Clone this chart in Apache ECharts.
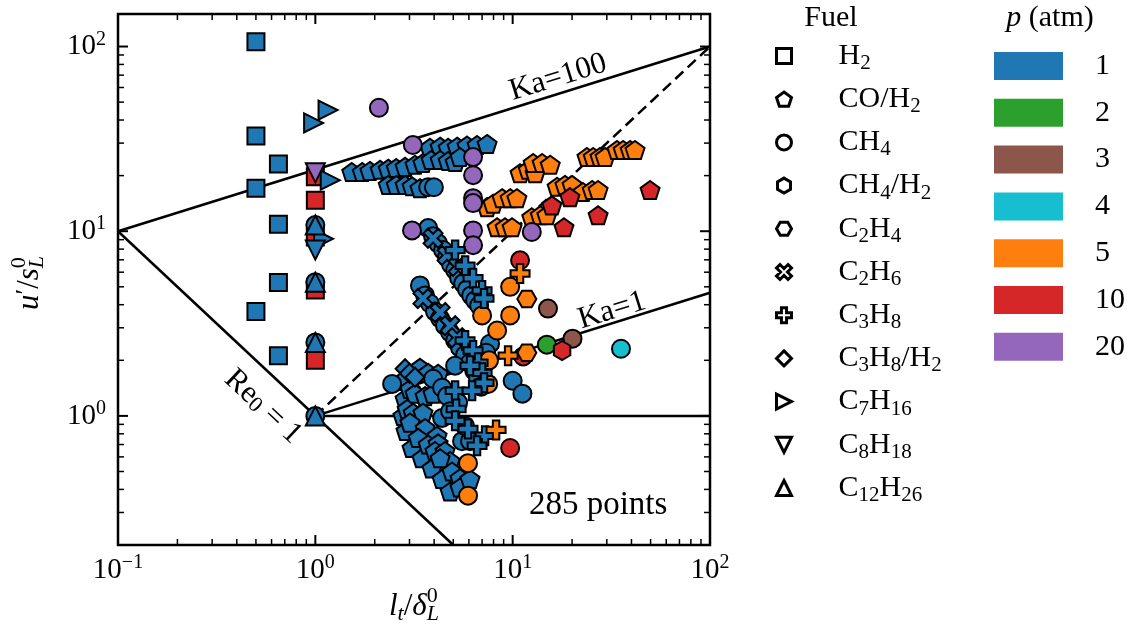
<!DOCTYPE html>
<html>
<head>
<meta charset="utf-8">
<title>Regime diagram</title>
<script src="https://cdn.jsdelivr.net/npm/echarts@6/dist/echarts.min.js"></script>
<style>
  html, body { margin: 0; padding: 0; background: #fff; }
  #chart { width: 1127px; height: 630px; }
</style>
</head>
<body>
<div id="chart"></div>
<script>
// each point: [l_t / delta_L0, u' / s_L0, p (atm)]
const H2 = [
  [0.5, 106, 1], [0.5, 32.8, 1], [0.5, 17.1, 1], [0.5, 3.67, 1],
  [0.65, 23.1, 1], [0.65, 10.9, 1], [0.65, 5.28, 1], [0.65, 2.12, 1],
  [1, 19.7, 10], [1, 14.7, 10], [1, 9.3, 10], [1, 4.8, 10], [1, 2.0, 10]
];
const COH2 = [
  // p = 1, upper band
  [3.81, 28.3, 1], [4.29, 28.7, 1], [4.71, 28.3, 1], [5.23, 28.7, 1], [5.87, 29.1, 1], [6.6, 29.3, 1], [7.42, 29.7, 1],
  [1.53, 20.9, 1], [1.73, 20.9, 1], [1.89, 21.2, 1], [2.13, 21.5, 1], [2.34, 21.8, 1], [2.57, 22.0, 1], [2.85, 22.3, 1],
  [3.2, 22.9, 1], [3.51, 23.4, 1], [3.86, 24.3, 1], [4.29, 24.3, 1], [4.71, 24.0, 1], [5.11, 23.7, 1], [5.41, 25.2, 1],
  [2.34, 17.8, 1], [2.57, 17.8, 1], [2.85, 17.8, 1], [3.09, 17.5, 1], [3.39, 17.1, 1],
  // p = 1, low cluster
  [2.78, 1.55, 1], [2.85, 1.24, 1], [2.78, 1.0, 1], [2.88, 0.83, 1], [3.09, 0.67, 1], [3.47, 0.59, 1], [3.9, 0.52, 1],
  [4.39, 0.455, 1], [4.82, 0.39, 1], [3.39, 1.82, 1], [3.73, 1.71, 1], [4.19, 1.69, 1], [3.02, 1.40, 1], [3.2, 1.32, 1],
  [3.6, 1.28, 1], [3.95, 1.32, 1], [2.92, 1.09, 1], [3.13, 1.04, 1], [3.51, 1.04, 1], [3.02, 0.92, 1], [3.6, 0.86, 1],
  [4.14, 0.78, 1], [3.32, 0.76, 1], [3.73, 0.70, 1], [4.19, 0.71, 1], [4.04, 0.645, 1], [4.54, 0.645, 1], [4.82, 0.57, 1],
  [4.29, 0.59, 1], [4.93, 0.50, 1], [5.41, 0.46, 1], [5.41, 0.41, 1], [6.08, 0.455, 1],
  // p = 5
  [23.8, 25.2, 5], [25.6, 25.2, 5], [27.7, 25.2, 5], [29.4, 25.2, 5], [33.8, 27.5, 5], [36.3, 27.5, 5], [39.4, 27.5, 5], [41.7, 27.5, 5],
  [10.9, 20.6, 5], [12.0, 21.5, 5], [13.0, 20.6, 5], [12.7, 23.4, 5], [14.1, 23.4, 5], [15.5, 22.9, 5],
  [16.8, 17.4, 5], [18.4, 17.8, 5], [20.0, 17.8, 5], [22.7, 16.3, 5], [25.3, 16.7, 5], [27.1, 16.7, 5],
  [7.42, 13.5, 5], [7.96, 14.1, 5], [8.84, 15.1, 5], [9.71, 15.1, 5], [10.5, 15.1, 5],
  [8.34, 10.5, 5], [9.15, 10.5, 5], [9.93, 10.5, 5], [12.5, 11.9, 5], [13.8, 12.2, 5], [14.9, 12.2, 5],
  // p = 10
  [49.7, 16.7, 10], [19.5, 15.3, 10], [15.8, 13.8, 10], [27.1, 12.2, 10], [18.2, 10.5, 10]
];
const CH4 = [
  [1, 10.8, 1], [1, 5.3, 1], [1, 2.5, 1], [1, 1.0, 1], [3.73, 17.3, 1], [3.99, 17.3, 1],
  [3.73, 10.4, 1], [3.95, 9.4, 1], [4.19, 8.6, 1], [4.44, 7.9, 1], [4.65, 7.2, 1], [4.87, 6.6, 1], [5.11, 6.15, 1],
  [5.35, 5.6, 1], [5.61, 5.22, 1], [5.87, 4.84, 1], [6.16, 4.49, 1], [6.45, 4.22, 1], [6.76, 3.96, 1],
  [3.39, 5.09, 1], [3.6, 4.49, 1], [3.81, 4.06, 1], [4.04, 3.67, 1], [4.29, 3.37, 1], [4.54, 3.08, 1], [4.82, 2.83, 1],
  [5.11, 2.56, 1], [5.41, 2.34, 1], [5.74, 2.14, 1], [6.08, 1.94, 1], [6.38, 1.76, 1], [6.68, 1.59, 1], [6.92, 1.44, 1],
  [7.68, 2.46, 1], [7.33, 2.2, 1],
  [2.45, 1.49, 1], [3.95, 1.59, 1], [4.39, 1.42, 1], [5.11, 1.87, 1], [5.29, 1.18, 1], [4.39, 0.975, 1], [5.54, 0.73, 1],
  [4.65, 1.28, 1], [4.82, 1.06, 1], [5.74, 0.88, 1], [6.08, 0.73, 1], [10.0, 1.55, 1], [11.2, 1.32, 1],
  [2.1, 46.6, 20], [3.12, 29.3, 20], [6.3, 25.2, 20], [6.3, 20.1, 20], [6.3, 15.1, 20], [6.3, 14.2, 20],
  [6.3, 10.1, 20], [6.3, 8.4, 20], [3.09, 10.1, 20], [12.5, 9.9, 20],
  [9.71, 5.0, 5], [9.71, 3.5, 5], [7.0, 3.5, 5], [8.34, 2.9, 5], [7.59, 2.0, 5], [7.51, 1.49, 5], [5.94, 0.555, 5], [5.94, 0.37, 5],
  [10.9, 6.96, 10], [9.71, 0.67, 10], [11.3, 2.1, 10],
  [15.1, 3.81, 3], [20.1, 2.62, 3], [14.9, 2.43, 2], [35.4, 2.31, 4]
];
const CH4H2 = [[17.8, 2.26, 10]];
const C2H4 = [[11.8, 4.3, 5], [11.8, 2.2, 5]];
const C2H6 = [
  [3.95, 9.16, 1], [4.65, 7.4, 1], [5.29, 6.45, 1],
  [3.51, 4.32, 1], [4.29, 3.63, 1], [4.82, 3.08, 1], [5.23, 2.65, 1]
];
const C3H8 = [
  [5.11, 7.9, 1], [5.74, 6.5, 1], [6.3, 5.56, 1], [7.0, 4.78, 1], [7.16, 4.32, 1],
  [5.74, 2.56, 1], [6.3, 2.26, 1], [6.68, 1.94, 1], [7.0, 1.71, 1], [7.16, 1.51, 1],
  [6.08, 1.87, 1], [5.11, 1.37, 1], [6.23, 1.37, 1], [5.17, 1.09, 1], [5.11, 0.94, 1], [5.94, 0.85, 1],
  [7.25, 0.78, 1], [6.6, 0.69, 1],
  [10.9, 5.91, 5], [9.48, 2.12, 5], [8.24, 0.84, 5]
];
const C3H8H2 = [[2.85, 1.8, 1], [3.0, 1.7, 1], [3.2, 1.62, 1]];
const C7H16 = [[0.98, 38.6, 1], [1.16, 45.3, 1], [1.19, 18.9, 1], [1.1, 9.1, 1]];
const C8H18 = [[1, 7.9, 1], [1, 20.7, 20]];
const C12H26 = [[1, 10.8, 1], [1, 5.3, 1], [1, 2.5, 1], [1, 1.0, 1]];

const pressures = [1, 2, 3, 4, 5, 10, 20];
const pressureColors = ['#1f77b4', '#2ca02c', '#8c564b', '#17becf', '#ff7f0e', '#d62728', '#9467bd'];

// regime boundaries
const ka100Line = [[0.1, 10], [100, 100]];
const ka1Line = [[1, 1], [100, 4.64]];
const re1Line = [[0.1, 10], [5, 0.2]];
const unityLine = [[1, 1], [100, 1]];
const diagLine = [[1, 1], [100, 100]];

const X_MIN = 0.1, X_MAX = 100, Y_MIN = 0.2, Y_MAX = 150;
const SERIF = '"Liberation Serif", "Times New Roman", serif';

const SYM = {
  square: 'rect',
  pentagon: 'path://M50,0 L97.55,34.55 L79.39,90.45 L20.61,90.45 L2.45,34.55 Z',
  hexV: 'path://M50,0 L93.3,25 L93.3,75 L50,100 L6.7,75 L6.7,25 Z',
  hexH: 'path://M0,50 L25,6.7 L75,6.7 L100,50 L75,93.3 L25,93.3 Z',
  cross: 'path://M74.75,4.04 L95.96,25.25 L71.21,50 L95.96,74.75 L74.75,95.96 L50,71.21 L25.25,95.96 L4.04,74.75 L28.79,50 L4.04,25.25 L25.25,4.04 L50,28.79 Z',
  plus: 'path://M33,0 H67 V33 H100 V67 H67 V100 H33 V67 H0 V33 H33 Z',
  triR: 'path://M0,0 L100,50 L0,100 Z',
  triD: 'path://M0,0 L100,0 L50,100 Z',
  triU: 'path://M50,0 L100,100 L0,100 Z'
};

const fuels = [
  { name: 'H2', label: '{gap| }{n|H}{s|2}', data: H2, symbol: SYM.square, size: 17 },
  { name: 'CO/H2', label: '{gap| }{n|CO/H}{s|2}', data: COH2, symbol: SYM.pentagon, size: 19 },
  { name: 'CH4', label: '{gap| }{n|CH}{s|4}', data: CH4, symbol: 'circle', size: 18 },
  { name: 'CH4/H2', label: '{gap| }{n|CH}{s|4}{n|/H}{s|2}', data: CH4H2, symbol: SYM.hexV, size: 19 },
  { name: 'C2H4', label: '{gap| }{n|C}{s|2}{n|H}{s|4}', data: C2H4, symbol: SYM.hexH, size: 19 },
  { name: 'C2H6', label: '{gap| }{n|C}{s|2}{n|H}{s|6}', data: C2H6, symbol: SYM.cross, size: 19 },
  { name: 'C3H8', label: '{gap| }{n|C}{s|3}{n|H}{s|8}', data: C3H8, symbol: SYM.plus, size: 19 },
  { name: 'C3H8/H2', label: '{gap| }{n|C}{s|3}{n|H}{s|8}{n|/H}{s|2}', data: C3H8H2, symbol: 'diamond', size: 19 },
  { name: 'C7H16', label: '{gap| }{n|C}{s|7}{n|H}{s|16}', data: C7H16, symbol: SYM.triR, size: 19 },
  { name: 'C8H18', label: '{gap| }{n|C}{s|8}{n|H}{s|18}', data: C8H18, symbol: SYM.triD, size: 19 },
  { name: 'C12H26', label: '{gap| }{n|C}{s|12}{n|H}{s|26}', data: C12H26, symbol: SYM.triU, size: 19 }
];

function colorOf(p) {
  return pressureColors[pressures.indexOf(p)];
}

// ticks drawn inside on all four sides
const xTicks = [], yTicks = [];
for (let d = -1; d <= 2; d++) {
  for (let k = 1; k <= 9; k++) {
    const v = k * Math.pow(10, d);
    const len = k === 1 ? 10 : 6;
    if (v >= X_MIN && v <= X_MAX) xTicks.push([v, 1, len]);
    if (v >= Y_MIN && v <= Y_MAX) yTicks.push([1, v, len]);
  }
}

function tickLabel(v) {
  const l = Math.log10(v);
  const e = Math.round(l);
  if (Math.abs(l - e) > 1e-6) return '';
  return '{b|10}{e|' + (e < 0 ? '\u2212' + (-e) : e) + '}';
}
const tickRich = {
  b: { fontFamily: SERIF, fontSize: 29, lineHeight: 34, color: '#000' },
  e: { fontFamily: SERIF, fontSize: 20, lineHeight: 16, verticalAlign: 'top', color: '#000' }
};

const chart = echarts.init(document.getElementById('chart'));

function guide(data, dashed) {
  return {
    type: 'line', data: data, symbol: 'none', silent: true, z: 1,
    lineStyle: { color: '#000', width: 2.5, type: dashed ? [11, 6] : 'solid' }
  };
}

const series = [
  guide(ka100Line), guide(ka1Line), guide(re1Line), guide(unityLine), guide(diagLine, true)
];
fuels.forEach(function (f) {
  series.push({
    type: 'scatter', name: f.name, symbol: f.symbol, symbolSize: f.size, symbolKeepAspect: true,
    silent: true, z: 3,
    itemStyle: { borderColor: '#000', borderWidth: 2, opacity: 1 },
    data: f.data.map(function (d) {
      return { value: [d[0], d[1]], itemStyle: { color: colorOf(d[2]) } };
    })
  });
});
pressures.forEach(function (p, i) {
  series.push({ type: 'scatter', name: String(p), data: [], itemStyle: { color: pressureColors[i], opacity: 1 } });
});
series.push({
  type: 'custom', silent: true, z: 6, clip: false, data: xTicks,
  renderItem: function (params, api) {
    const v = api.value(0), len = api.value(2);
    const b = api.coord([v, Y_MIN]), t = api.coord([v, Y_MAX]);
    const st = { stroke: '#000', lineWidth: len > 8 ? 2 : 1.5 };
    return { type: 'group', children: [
      { type: 'line', shape: { x1: b[0], y1: b[1], x2: b[0], y2: b[1] - len }, style: st },
      { type: 'line', shape: { x1: t[0], y1: t[1], x2: t[0], y2: t[1] + len }, style: st }
    ] };
  }
});
series.push({
  type: 'custom', silent: true, z: 6, clip: false, data: yTicks,
  renderItem: function (params, api) {
    const v = api.value(1), len = api.value(2);
    const l = api.coord([X_MIN, v]), r = api.coord([X_MAX, v]);
    const st = { stroke: '#000', lineWidth: len > 8 ? 2 : 1.5 };
    return { type: 'group', children: [
      { type: 'line', shape: { x1: l[0], y1: l[1], x2: l[0] + len, y2: l[1] }, style: st },
      { type: 'line', shape: { x1: r[0], y1: r[1], x2: r[0] - len, y2: r[1] }, style: st }
    ] };
  }
});

const legendText = {
  color: '#000',
  rich: {
    gap: { width: 42 },
    n: { fontFamily: SERIF, fontSize: 30, lineHeight: 36, color: '#000' },
    s: { fontFamily: SERIF, fontSize: 21, lineHeight: 18, verticalAlign: 'bottom', color: '#000' }
  }
};
const labelOf = {};
fuels.forEach(function (f) { labelOf[f.name] = f.label; });

chart.setOption({
  animation: false,
  backgroundColor: '#fff',
  grid: {
    left: 118, top: 14, width: 592, height: 531, show: true,
    borderColor: '#000', borderWidth: 2.5, backgroundColor: 'transparent',
    containLabel: false, outerBoundsMode: 'none'
  },
  xAxis: {
    type: 'log', logBase: 10, min: X_MIN, max: X_MAX,
    axisLine: { show: false }, axisTick: { show: false }, splitLine: { show: false },
    axisLabel: { formatter: tickLabel, rich: tickRich, margin: 8 }
  },
  yAxis: {
    type: 'log', logBase: 10, min: Y_MIN, max: Y_MAX,
    axisLine: { show: false }, axisTick: { show: false }, splitLine: { show: false },
    axisLabel: { formatter: tickLabel, rich: tickRich, margin: 12 }
  },
  legend: [
    {
      data: fuels.map(function (f) {
        return { name: f.name, icon: f.symbol, itemStyle: { color: '#fff', borderColor: '#000', borderWidth: 3, opacity: 1 } };
      }),
      orient: 'vertical', left: 775, top: 41, padding: 0, align: 'left',
      itemWidth: 15, itemHeight: 15, itemGap: 10.2, selectedMode: false,
      formatter: function (name) { return labelOf[name]; },
      textStyle: legendText
    },
    {
      data: pressures.map(function (p, i) {
        return { name: String(p), icon: 'rect', itemStyle: { color: pressureColors[i], opacity: 1, borderWidth: 0 } };
      }),
      orient: 'vertical', left: 994, top: 51, padding: 0, align: 'left',
      itemWidth: 69, itemHeight: 28, itemGap: 16.8, selectedMode: false,
      formatter: function (name) { return '{gap| }{n|' + name + '}'; },
      textStyle: {
        color: '#000',
        rich: {
          gap: { width: 27 },
          n: { fontFamily: SERIF, fontSize: 30, lineHeight: 36, color: '#000' }
        }
      }
    }
  ],
  series: series
});

// math-like labels built from pieces
const measure = document.createElement('canvas').getContext('2d');
function mathText(pieces, cx, cy, rotation) {
  let x = 0, prevX = 0;
  const children = [];
  pieces.forEach(function (p) {
    const size = p.size || 31;
    measure.font = (p.italic ? 'italic ' : '') + size + 'px ' + SERIF;
    const w = measure.measureText(p.t).width;
    const x0 = p.stack ? prevX : x;
    children.push({
      type: 'text', x: x0, y: p.dy || 0,
      style: {
        text: p.t, fontSize: size, fontFamily: SERIF, fontStyle: p.italic ? 'italic' : 'normal',
        fill: '#000', align: 'left', verticalAlign: 'middle'
      }
    });
    prevX = x0;
    x = Math.max(x, x0 + w);
  });
  children.forEach(function (c) { c.x -= x / 2; });
  return { type: 'group', x: cx, y: cy, rotation: rotation || 0, children: children };
}

function at(x, y) {
  return chart.convertToPixel({ gridIndex: 0 }, [x, y]);
}

function plain(text, pos, rotation, size) {
  return {
    type: 'text', x: pos[0], y: pos[1], rotation: rotation || 0, z: 10,
    style: {
      text: text, fontSize: size || 31, fontFamily: SERIF, fill: '#000',
      align: 'center', verticalAlign: 'middle',
      rich: {
        n: { fontSize: size || 31, fontFamily: SERIF },
        s: { fontSize: 22, fontFamily: SERIF, lineHeight: 16, verticalAlign: 'bottom' }
      }
    }
  };
}

chart.setOption({
  graphic: [
    plain('Ka=100', at(17, 68), 0.30),
    plain('Ka=1', at(31.9, 3.72), 0.30),
    plain('{n|Re}{s|0}{n| = 1}', at(0.543, 1.12), -0.752),
    plain('285 points', at(27.1, 0.33), 0, 33),
    mathText([
      { t: 'l', italic: true }, { t: 't', italic: true, size: 22, dy: 7 }, { t: '/' },
      { t: '\u03b4', italic: true }, { t: 'L', italic: true, size: 22, dy: 7 }, { t: '0', size: 22, dy: -11, stack: true }
    ], 414, 607, 0),
    mathText([
      { t: 'u', italic: true }, { t: '\u2032', size: 26, dy: -4 }, { t: '/' },
      { t: 's', italic: true }, { t: 'L', italic: true, size: 22, dy: 7 }, { t: '0', size: 22, dy: -11, stack: true }
    ], 30, 283, Math.PI / 2),
    plain('Fuel', [831, 18], 0, 30),
    mathText([{ t: 'p', italic: true, size: 30 }, { t: ' (atm)', size: 30 }], 1050, 18, 0)
  ]
});
</script>
</body>
</html>
